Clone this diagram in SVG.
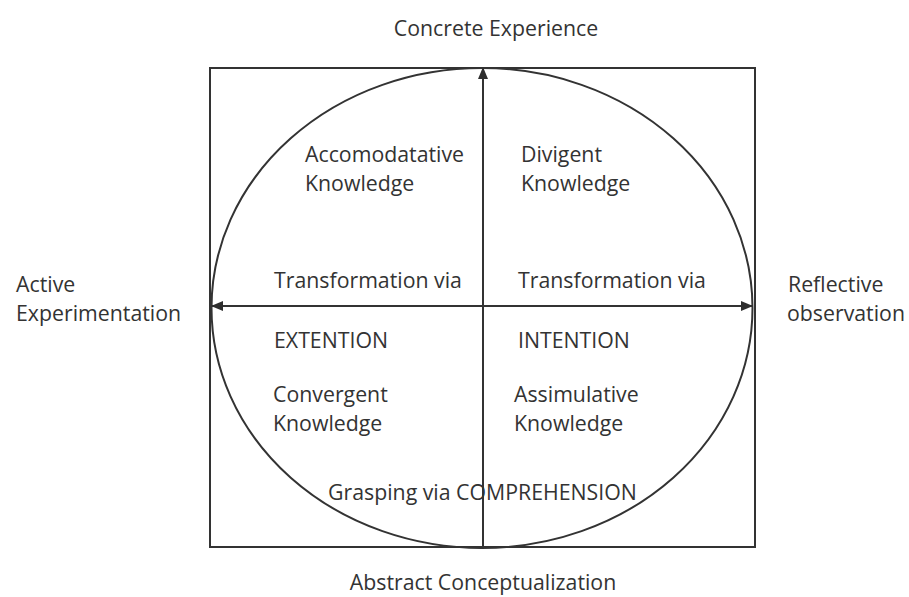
<svg xmlns="http://www.w3.org/2000/svg" width="909" height="597" viewBox="0 0 909 597">
  <defs>
    <marker id="head" viewBox="0 0 12 10" refX="11" refY="5" markerWidth="12" markerHeight="10" markerUnits="userSpaceOnUse" orient="auto">
      <path d="M0,0 L12,5 L0,10 Z" fill="#2e2e2e"/>
    </marker>
    <style>
      .frame { fill: none; stroke: #333; stroke-width: 2; }
      .axis { fill: none; stroke: #333; stroke-width: 2; marker-end: url(#head); }
      text { font-family: "Open Sans", "Liberation Sans", sans-serif; font-size: 21.3px; fill: #333; }
      .mid { text-anchor: middle; }
    </style>
  </defs>
  <rect width="909" height="597" fill="#fff"/>

  <!-- outer frame and cycle ellipse -->
  <g id="frame">
    <rect class="frame" x="210" y="68" width="545" height="479"/>
    <ellipse class="frame" cx="482" cy="308" rx="270.5" ry="240"/>
  </g>

  <!-- axes -->
  <g id="connectors">
    <line class="axis" x1="483" y1="547" x2="483" y2="68"/>
    <line class="axis" x1="483" y1="306" x2="212" y2="306"/>
    <line class="axis" x1="483" y1="306" x2="752" y2="306"/>
  </g>

  <!-- pole labels -->
  <g id="concrete-experience"><text class="mid" x="496" y="36">Concrete Experience</text></g>
  <g id="abstract-conceptualization"><text class="mid" x="483" y="590">Abstract Conceptualization</text></g>
  <g id="active-experimentation">
    <text x="16" y="292">Active</text>
    <text x="16" y="321">Experimentation</text>
  </g>
  <g id="reflective-observation">
    <text x="788" y="292">Reflective</text>
    <text x="787" y="321">observation</text>
  </g>

  <!-- quadrant labels -->
  <g id="accomodatative">
    <text x="305" y="162">Accomodatative</text>
    <text x="305" y="191">Knowledge</text>
  </g>
  <g id="divigent">
    <text x="521" y="162">Divigent</text>
    <text x="521" y="191">Knowledge</text>
  </g>
  <g id="convergent">
    <text x="273" y="402">Convergent</text>
    <text x="273" y="431">Knowledge</text>
  </g>
  <g id="assimulative">
    <text x="514" y="402">Assimulative</text>
    <text x="514" y="431">Knowledge</text>
  </g>

  <!-- transformation labels -->
  <g id="extention">
    <text x="274" y="288">Transformation via</text>
    <text x="274" y="348">EXTENTION</text>
  </g>
  <g id="intention">
    <text x="518" y="288">Transformation via</text>
    <text x="518" y="348">INTENTION</text>
  </g>
  <g id="comprehension"><text x="328" y="500">Grasping via COMPREHENSION</text></g>
</svg>
